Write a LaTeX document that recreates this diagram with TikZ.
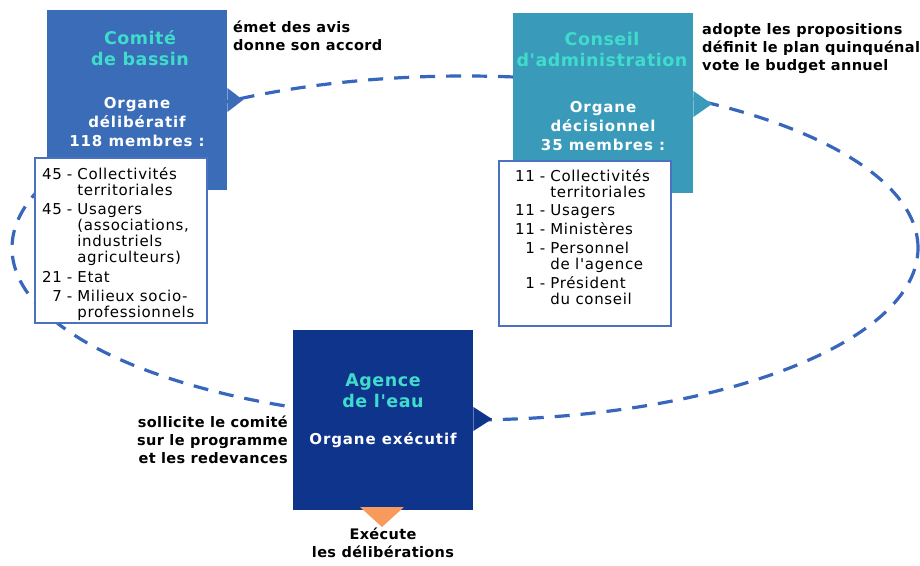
\documentclass[tikz,border=0pt]{standalone}
\usepackage{fontspec}
\setmainfont{DejaVu Sans}
\newfontfamily\lsf[LetterSpace=4.5]{DejaVu Sans}
\newfontfamily\subf[LetterSpace=6]{DejaVu Sans}
\newfontfamily\notef[LetterSpace=2.5]{DejaVu Sans}
\newfontfamily\ttf[LetterSpace=3]{DejaVu Sans}
\definecolor{cbBlue}{HTML}{3A6CB8}
\definecolor{caTeal}{HTML}{399BB9}
\definecolor{agNavy}{HTML}{0F348C}
\definecolor{ttlCyan}{HTML}{40DCCB}
\definecolor{dashBlue}{HTML}{3766BC}
\definecolor{listBlue}{HTML}{4A72C0}
\definecolor{triOrange}{HTML}{F79A5C}
\tikzset{
  bigbox/.style={draw=none, minimum width=180pt, minimum height=180pt, inner sep=0pt, anchor=north west},
  listbox/.style={draw=listBlue, line width=1.6pt, fill=white, inner sep=0pt, anchor=north west},
  ttl/.style={text=ttlCyan, align=center, inner sep=0pt, font=\ttf\bfseries\fontsize{17.5}{21}\selectfont},
  sub/.style={text=white, align=center, inner sep=0pt, font=\subf\bfseries\fontsize{15}{19}\selectfont},
  note/.style={text=black, inner sep=0pt, font=\notef\bfseries\fontsize{14.5}{18}\selectfont},
  listtxt/.style={text=black, inner sep=0pt, anchor=north west, font=\lsf\fontsize{15}{15.5}\selectfont},
  dashline/.style={draw=dashBlue, line width=3.2pt, dash pattern=on 15pt off 11pt},
}
\begin{document}
\begin{tikzpicture}[x=1pt,y=-1pt]
\useasboundingbox (0,0) rectangle (920,565);
% dashed cycle
\draw[dashline] (465,248) ellipse [x radius=453pt, y radius=172pt];
% big boxes
\node[bigbox, fill=cbBlue] (comite) at (47,10) {};
\node[bigbox, fill=caTeal] (conseil) at (513,13) {};
\node[bigbox, fill=agNavy] (agence) at (293,330) {};
% pointers
\fill[cbBlue] (comite.east |- 0,88) coordinate (cp1) -- (243,100) coordinate (cp2) -- (comite.east |- 0,112) coordinate (cp3) -- cycle;
\fill[caTeal] (conseil.east |- 0,91) coordinate (sp1) -- (712,104) coordinate (sp2) -- (conseil.east |- 0,117) coordinate (sp3) -- cycle;
\fill[agNavy] (agence.east |- 0,407) coordinate (ap1) -- (492,419) coordinate (ap2) -- (agence.east |- 0,431) coordinate (ap3) -- cycle;
\fill[triOrange] (360,507) coordinate (op1) -- (404,507) coordinate (op2) -- (382,527) coordinate (op3) -- cycle;
% titles
\node[ttl] (comiteT) at (140,48) {Comité\\de bassin};
\node[sub] (comiteS) at (137,122) {Organe\\délibératif\\118 membres :};
\node[ttl] (conseilT) at (602,49) {Conseil\\d'administration};
\node[sub] (conseilS) at (603,126) {Organe\\décisionnel\\35 membres :};
\node[ttl] (agenceT) at (383,391) {Agence\\de l'eau};
\node[sub] (agenceS) at (383,440) {Organe exécutif};
% list boxes
\node[listbox, minimum width=172pt, minimum height=165pt] (list1) at (34,157) {};
\node[listbox, minimum width=172pt, minimum height=165pt] (list2) at (498,160) {};
\node[listtxt] (list1txt) at (42,167) {\begin{tabular}{@{}r@{\hspace{5pt}}c@{\hspace{5pt}}l@{}}
45 & - & Collectivités\\ && territoriales\\[3.7pt]
45 & - & Usagers\\ && (associations,\\ && industriels\\ && agriculteurs)\\[3.7pt]
21 & - & Etat\\[3.7pt]
7 & - & Milieux socio-\\ && professionnels
\end{tabular}};
\node[listtxt] (list2txt) at (515,169) {\begin{tabular}{@{}r@{\hspace{5pt}}c@{\hspace{5pt}}l@{}}
11 & - & Collectivités\\ && territoriales\\[2.5pt]
11 & - & Usagers\\[2.5pt]
11 & - & Ministères\\[2.5pt]
1 & - & Personnel\\ && de l'agence\\[2.5pt]
1 & - & Président\\ && du conseil
\end{tabular}};
% notes
\node[note, align=left, anchor=north west] (n1) at (233,21) {émet des avis\\donne son accord};
\node[note, align=left, anchor=north west] (n2) at (702,23) {adopte les propositions\\définit le plan quinquénal\\vote le budget annuel};
\node[note, align=right, anchor=north east] (n3) at (288,416) {sollicite le comité\\sur le programme\\et les redevances};
\node[note, align=center, anchor=north] (n4) at (383,528) {Exécute\\les délibérations};
\end{tikzpicture}
\end{document}
